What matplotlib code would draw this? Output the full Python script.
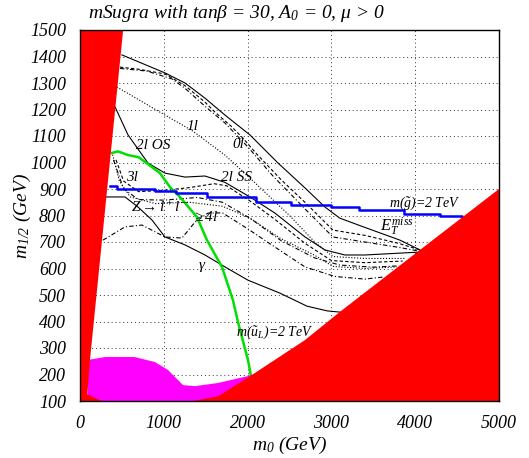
import matplotlib
matplotlib.use("Agg")
import matplotlib.pyplot as plt

plt.rcParams['font.family'] = ['Liberation Serif', 'DejaVu Serif']
plt.rcParams['font.style'] = 'italic'
plt.rcParams['mathtext.fontset'] = 'custom'
plt.rcParams['mathtext.rm'] = 'Liberation Serif'
plt.rcParams['mathtext.it'] = 'Liberation Serif:italic'

# --- data (m0, m1/2 in GeV) ---
etmiss_x = [500, 1014, 1253, 1491, 1730, 2028, 2363, 2685, 2923, 3100, 3400, 3818, 4057]
etmiss_y = [1406, 1338, 1300, 1243, 1179, 1104, 998, 904, 832, 790, 755, 707, 670]

zero_l_x = [477, 700, 1014, 1253, 1491, 1611, 1800, 1950, 2100, 2400, 2700, 3018, 3400, 3800, 4057]
zero_l_y = [1360, 1352, 1334, 1290, 1228, 1190, 1138, 1090, 1035, 935, 845, 745, 725, 695, 670]

extra_x = [477, 800, 1100, 1253, 1500, 1730, 2000, 2300, 2700, 3018, 3400, 3800, 4057]
extra_y = [1355, 1345, 1315, 1280, 1210, 1149, 1060, 950, 820, 719, 700, 680, 665]

one_l_x = [440, 1014, 1340, 1730, 2100, 2500, 2800, 3018, 3400, 3880]
one_l_y = [1285, 1179, 1120, 1028, 920, 800, 700, 645, 638, 638]

two_os_x = [418, 573, 811, 1014, 1253, 1491, 1730, 2028, 2327, 2685, 2923, 3161, 3400, 4057]
two_os_y = [1210, 1104, 998, 960, 945, 949, 925, 870, 809, 719, 670, 651, 651, 662]

two_ss_x = [430, 520, 700, 1000, 1300, 1600, 1750, 2028, 2327, 2685, 3000, 3400, 3850]
two_ss_y = [1010, 930, 890, 895, 905, 920, 912, 855, 785, 695, 630, 622, 628]

three_l_x = [400, 520, 700, 1000, 1400, 1700, 2028, 2400, 2800, 3100, 3500, 3800]
three_l_y = [1010, 900, 860, 858, 868, 850, 790, 705, 640, 613, 605, 610]

zll_x = [380, 470, 600, 900, 1300, 1700, 2028, 2400, 2800, 3018, 3400, 3780]
zll_y = [1040, 930, 870, 845, 850, 835, 790, 712, 650, 608, 600, 606]

four_l_x = [274, 537, 740, 1014, 1217, 1372, 1527, 1700, 2000, 2330, 2685, 3040, 3400, 3620]
four_l_y = [707, 757, 764, 719, 715, 775, 809, 810, 750, 680, 606, 570, 560, 568]

gamma_x = [298, 537, 692, 859, 1014, 1253, 1491, 1730, 2004, 2386, 2708, 2950, 3150]
gamma_y = [870, 870, 832, 783, 719, 689, 651, 606, 556, 507, 458, 440, 434]

squark_x = [382, 453, 573, 700, 954, 1074, 1193, 1396, 1515, 1694, 1825, 1885, 2004, 2040]
squark_y = [1036, 1042, 1028, 1020, 960, 907, 870, 794, 707, 606, 481, 398, 255, 195]

gluino_x = [358, 440, 900, 1150, 1520, 2100, 2520, 3000, 3330, 3870, 4290, 4560]
gluino_y = [911, 900, 893, 885, 870, 851, 840, 832, 820, 806, 800, 785]

red_left_x = [0, 0, 515, 120, 88, 260]
red_left_y = [100, 1500, 1500, 258, 125, 100]

red_right_x = [1350, 1650, 2050, 2685, 3100, 4057, 5000, 5000]
red_right_y = [100, 118, 198, 330, 436, 670, 900, 100]

magenta_x = [90, 100, 300, 650, 895, 1050, 1170, 1229, 1372, 1647, 2004, 2060, 2060]
magenta_y = [100, 255, 266, 266, 247, 217, 179, 160, 156, 168, 194, 200, 100]

x_ticks = [0, 1000, 2000, 3000, 4000, 5000]
y_ticks = list(range(100, 1501, 100))

fig = plt.figure(figsize=(5.29, 4.58), dpi=100)
ax = fig.add_axes([80 / 529, 57 / 458, 419 / 529, 371 / 458])

dash = (3, 2)
dot = (1, 1.6)
dashdot = (4, 2, 1, 2)
lw = 0.8

ax.plot(etmiss_x, etmiss_y, color='k', lw=lw)
ax.plot(zero_l_x, zero_l_y, color='k', lw=lw, dashes=dash)
ax.plot(extra_x, extra_y, color='k', lw=lw, dashes=dashdot)
ax.plot(one_l_x, one_l_y, color='k', lw=lw, dashes=dot)
ax.plot(two_os_x, two_os_y, color='k', lw=lw)
ax.plot(two_ss_x, two_ss_y, color='k', lw=lw, dashes=dash)
ax.plot(three_l_x, three_l_y, color='k', lw=lw, dashes=dashdot)
ax.plot(zll_x, zll_y, color='k', lw=lw, dashes=dot)
ax.plot(four_l_x, four_l_y, color='k', lw=lw, dashes=dashdot)
ax.plot(gamma_x, gamma_y, color='k', lw=lw)
ax.plot(squark_x, squark_y, color='#00e000', lw=1.8)
ax.plot(gluino_x, gluino_y, color='#0000ff', lw=1.8, drawstyle='steps-post')

ax.fill(magenta_x, magenta_y, color='#ff00ff', lw=0, zorder=3)
ax.fill(red_left_x, red_left_y, color='#ff0000', lw=0, zorder=4)
ax.fill(red_right_x, red_right_y, color='#ff0000', lw=0, zorder=4)

fs = 11
ax.text(1340, 1135, '1l', fontsize=fs, ha='center', va='center')
ax.text(1885, 1068, '0l', fontsize=fs, ha='center', va='center')
ax.text(871, 1066, '2l OS', fontsize=fs, ha='center', va='center')
ax.text(1873, 945, '2l SS', fontsize=fs, ha='center', va='center')
ax.text(620, 945, '3l', fontsize=fs, ha='center', va='center')
ax.text(955, 832, r'Z$\rightarrow$l$^+$l$^-$', fontsize=fs, ha='center', va='center')
ax.text(1491, 794, r'$\geq$4l', fontsize=fs, ha='center', va='center')
ax.text(1456, 606, r'$\gamma$', fontsize=fs, ha='center', va='center')
ax.text(4117, 845, r'$m(\tilde{g})$=2 TeV', fontsize=fs - 1, ha='center', va='center')
ax.text(3782, 755, r'$E_T^{miss}$', fontsize=fs + 1, ha='center', va='center')
ax.text(2327, 360, r'$m(\tilde{u}_L)$=2 TeV', fontsize=fs - 1, ha='center', va='center')

ax.set_xlim(0, 5000)
ax.set_ylim(100, 1500)
ax.set_xticks(x_ticks)
ax.set_yticks(y_ticks)
ax.tick_params(length=0, labelsize=13, pad=10)
ax.grid(True, color='#333333', linestyle=(0, (1, 3)), lw=0.7, zorder=0)
ax.set_axisbelow(True)
for sp in ax.spines.values():
    sp.set_linewidth(1.0)
    sp.set_zorder(5)

ax.set_xlabel(r'm$_{\mathit{0}}$ (GeV)', fontsize=14, labelpad=2)
ax.set_ylabel(r'm$_{\mathit{1/2}}$ (GeV)', fontsize=14, labelpad=-2)
fig.text(88 / 529, 1 - 14 / 458,
         r'mSugra with tan$\mathrm{\beta}$ = 30, A$_{\mathit{0}}$ = 0, $\mathrm{\mu}$ > 0',
         fontsize=14, ha='left', va='center')

fig.savefig('out.png', dpi=100)
